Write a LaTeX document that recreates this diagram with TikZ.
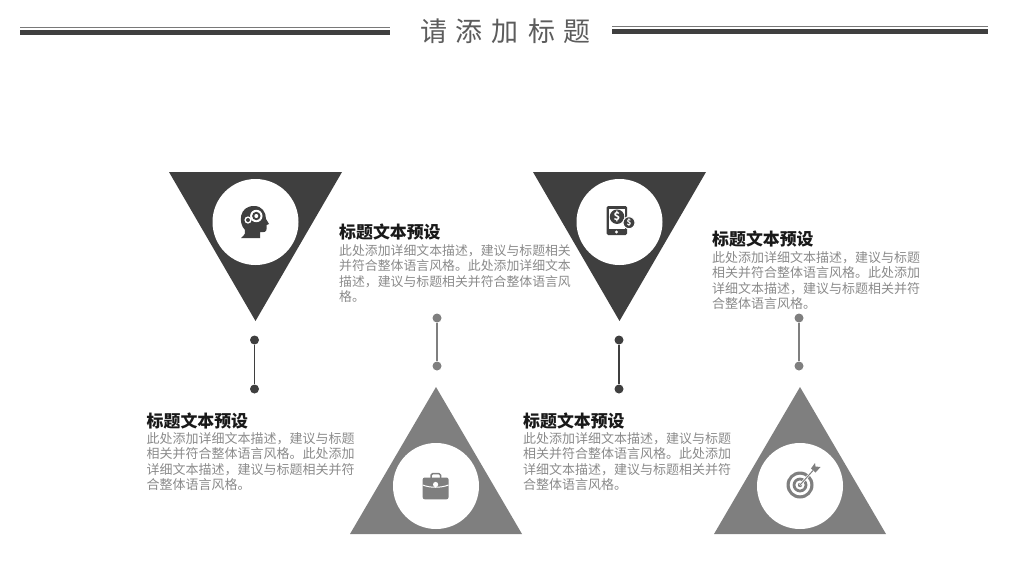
\documentclass[tikz,border=0pt]{standalone}
\usepackage{fontspec}
\setmainfont{Noto Sans CJK SC}
\definecolor{darktri}{HTML}{3F3F3F}
\definecolor{midtri}{HTML}{7F7F7F}
\definecolor{bodytxt}{HTML}{8A8A8A}
\def\fgap{\hspace{9pt}}
\begin{document}
\begin{tikzpicture}[x=1pt,y=-1pt,line join=round,
  disc/.style={circle,fill=white,inner sep=0pt,minimum size=86pt},
  dot/.style={circle,inner sep=0pt,minimum size=9pt},
  headtxt/.style={anchor=west,inner sep=0pt,font=\fontsize{16.9}{18}\selectfont\bfseries,text=black!90},
  bodyblk/.style={anchor=north west,inner sep=0pt,align=left,text=bodytxt,font=\fontsize{13}{15.5}\selectfont}]
\useasboundingbox (0,0) rectangle (1024,576);
% top rules and title
\fill[darktri] (20,29.5) rectangle (390,34.5);
\draw[darktri!70,line width=1.1pt] (20,27.3)--(390,27.3);
\fill[darktri] (612,28.5) rectangle (988,33.5);
\draw[darktri!70,line width=1.1pt] (612,26.3)--(988,26.3);
\node (title) at (505.5,31.5) [inner sep=0pt,text=darktri!85,font=\fontsize{27}{30}\selectfont] {请\fgap 添\fgap 加\fgap 标\fgap 题};
% triangles
\fill[darktri] (169,172)--(342,172)--(255.5,321)--cycle;
\fill[darktri] (533,172)--(706,172)--(619.5,321)--cycle;
\fill[midtri] (350,534)--(522,534)--(436,387)--cycle;
\fill[midtri] (714,534)--(886,534)--(800,387)--cycle;
\node[disc] (discA) at (255.5,222) {};
\node[disc] (discB) at (619.5,222) {};
\node[disc] (discC) at (436,486) {};
\node[disc] (discD) at (800,486) {};
% connectors
\node[dot,fill=darktri] (topA) at (254.5,340) {};
\node[dot,fill=darktri] (botA) at (254.5,389) {};
\node[dot,fill=midtri] (topC) at (437,318) {};
\node[dot,fill=midtri] (botC) at (437,366) {};
\node[dot,fill=darktri] (topB) at (619,340) {};
\node[dot,fill=darktri] (botB) at (619,389) {};
\node[dot,fill=midtri] (topD) at (799,318) {};
\node[dot,fill=midtri] (botD) at (799,366) {};
\draw[darktri,line width=1.6pt] (topA)--(botA);
\draw[midtri,line width=1.6pt] (topC)--(botC);
\draw[darktri,line width=1.6pt] (topB)--(botB);
\draw[midtri,line width=1.6pt] (topD)--(botD);
% head icon
\fill[darktri] (241,238) .. controls (245,235) and (246,232) .. (245,230) .. controls (238,223) and (239,206) .. (254,206) .. controls (262,206) and (266,212) .. (266,219) -- (269,224) -- (266.5,225) -- (266.5,229) .. controls (266.5,232) and (264,232.5) .. (260,232) -- (260,238) -- cycle;
\fill[white] (256.3,216) circle (6.2);
\fill[darktri] (256.3,216) circle (4.2);
\fill[white] (256.3,216) circle (2);
\fill[white] (248,220) circle (3.6);
\fill[darktri] (248,220) circle (2);
% tablet icon
\fill[darktri,rounded corners=1.5pt] (606.5,206) rectangle (627,235);
\fill[white] (608.5,208.5) rectangle (625,229);
\fill[white] (616.5,232) circle (1.6);
\node[circle,fill=darktri,inner sep=0pt,minimum size=14.5pt,text=white,font=\fontsize{11}{11}\selectfont\bfseries] (coinA) at (617,216.7) {\$};
\node[circle,fill=darktri,draw=white,line width=1pt,inner sep=0pt,minimum size=12pt,text=white,font=\fontsize{8}{8}\selectfont\bfseries] (coinB) at (629,222.7) {\$};
% briefcase icon
\draw[midtri,line width=1.5pt,rounded corners=1.5pt] (431,479)--(431,473.7)--(440.6,473.7)--(440.6,479);
\fill[midtri,rounded corners=2pt] (422.7,477.5) rectangle (448.5,499.3);
\draw[white,line width=1pt] (422.7,485) .. controls (430,488) and (441,488) .. (448.5,485);
\fill[white] (435.6,484.5) circle (2.6);
% target icon
\fill[midtri] (800,485) circle (13.5);
\fill[white] (800,485) circle (10.3);
\fill[midtri] (800,485) circle (7.4);
\fill[white] (800,485) circle (4.6);
\fill[midtri] (800,485) circle (2.2);
\draw[white,line width=2.4pt] (800,485)--(813,470.5);
\draw[midtri,line width=1pt] (800,485)--(813,470.5);
\fill[midtri] (811,468.5)--(815,463)--(815.5,466.5)--(820.5,467)--(815.5,472.5)--cycle;
% texts
\node[headtxt] (capA) at (146.5,421) {标题文本预设};
\node[bodyblk] (txtA) at (146.5,432) {此处添加详细文本描述，建议与标题\\相关并符合整体语言风格。此处添加\\详细文本描述，建议与标题相关并符\\合整体语言风格。};
\node[headtxt] (capC) at (339,232) {标题文本预设};
\node[bodyblk,font=\fontsize{12.87}{15.5}\selectfont] (txtC) at (339,244) {此处添加详细文本描述，建议与标题相关\\并符合整体语言风格。此处添加详细文本\\描述，建议与标题相关并符合整体语言风\\格。};
\node[headtxt] (capB) at (523,421) {标题文本预设};
\node[bodyblk] (txtB) at (523,432) {此处添加详细文本描述，建议与标题\\相关并符合整体语言风格。此处添加\\详细文本描述，建议与标题相关并符\\合整体语言风格。};
\node[headtxt] (capD) at (712,239) {标题文本预设};
\node[bodyblk] (txtD) at (712,251) {此处添加详细文本描述，建议与标题\\相关并符合整体语言风格。此处添加\\详细文本描述，建议与标题相关并符\\合整体语言风格。};
\end{tikzpicture}
\end{document}
